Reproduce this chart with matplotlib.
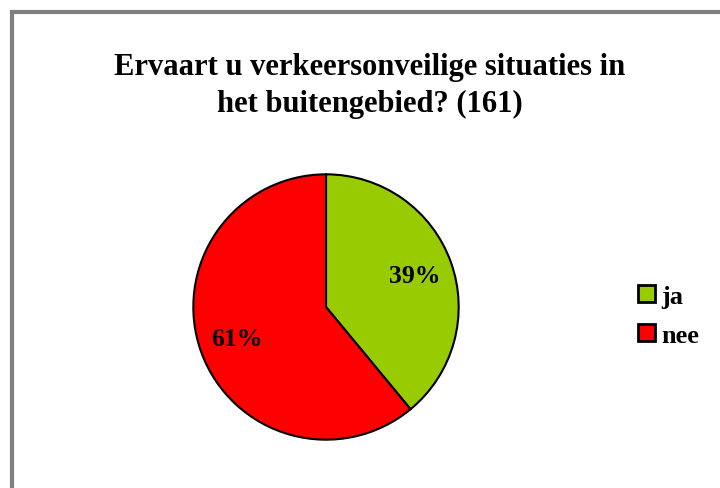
import matplotlib.pyplot as plt
from matplotlib.patches import Rectangle

labels = ['ja', 'nee']
values = [39, 61]
colors = ['#99cc00', '#ff0000']
title = 'Ervaart u verkeersonveilige situaties in\nhet buitengebied? (161)'

plt.rcParams['font.family'] = ['Liberation Serif', 'DejaVu Serif']
plt.rcParams['font.weight'] = 'bold'

fig = plt.figure(figsize=(7.2, 4.89), dpi=100)

# grijze kaderlijn (loopt rechts en onder buiten beeld door)
fig.patches.append(Rectangle((12/720, -0.1), 1.2, 1 - 13/489 + 0.1,
                             transform=fig.transFigure, fill=False,
                             edgecolor='#808080', linewidth=3))

fig.text(370/720, 1 - 86/489, title, ha='center', va='center',
         fontsize=22, fontweight='bold', linespacing=1.35)

ax = fig.add_axes([192/720, 47/489, 268/720, 268/489])
wedges, texts, autotexts = ax.pie(values, colors=colors, startangle=90,
                                  counterclock=False, autopct='%d%%',
                                  pctdistance=0.71,
                                  wedgeprops=dict(edgecolor='black', linewidth=1.5))
for t in autotexts:
    t.set_fontsize(18.5)
    t.set_fontweight('bold')
ax.set_xlim(-1.01, 1.01)
ax.set_ylim(-1.01, 1.01)
ax.set_aspect('equal')

fig.legend(wedges, labels, loc='upper left', bbox_to_anchor=(614/720, 1 - 262/489),
           frameon=False, fontsize=19, handlelength=0.65, handleheight=0.65,
           handletextpad=0.25, labelspacing=0.6)
for p in fig.legends[0].get_patches():
    p.set_linewidth(2)

fig.savefig('out.png', dpi=100)
